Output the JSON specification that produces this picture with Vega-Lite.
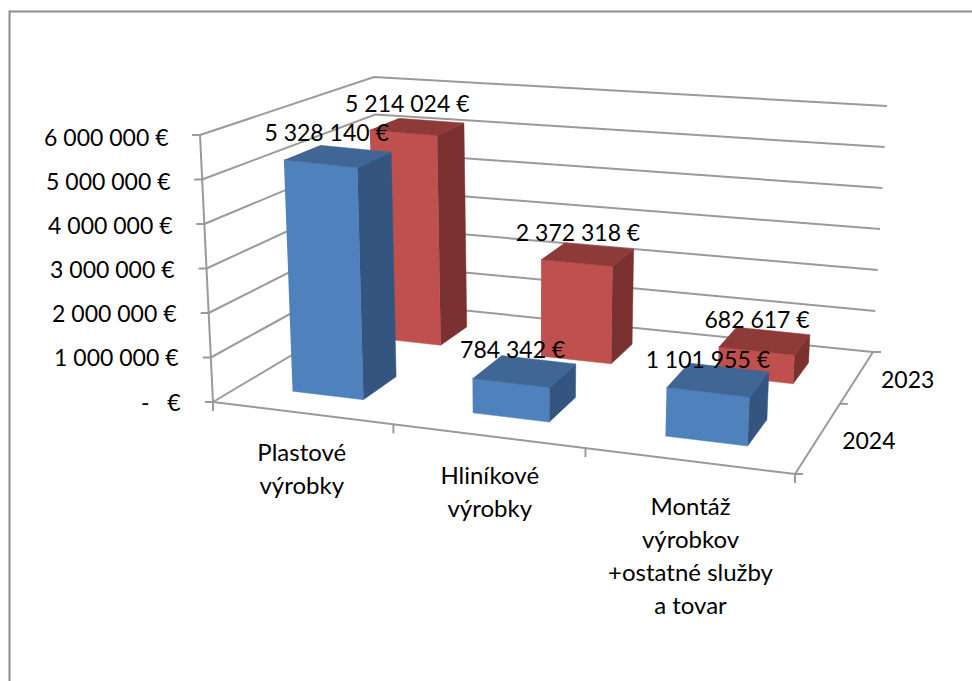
{
"$schema":"https://vega.github.io/schema/vega-lite/v6.json",
"width":972,"height":681,"padding":0,"autosize":{"type":"none"},"background":"white",
"config":{"view":{"stroke":null},"text":{"font":"Lato","fontSize":23,"color":"#000000"}},
"datasets":{
"bars":[
{"category":"Plastové\nvýrobky","year":"2024","value":5328140},
{"category":"Hliníkové\nvýrobky","year":"2024","value":784342},
{"category":"Montáž\nvýrobkov\n+ostatné služby\na tovar","year":"2024","value":1101955},
{"category":"Plastové\nvýrobky","year":"2023","value":5214024},
{"category":"Hliníkové\nvýrobky","year":"2023","value":2372318},
{"category":"Montáž\nvýrobkov\n+ostatné služby\na tovar","year":"2023","value":682617}],
"levels":[{"level":0},{"level":1000000},{"level":2000000},{"level":3000000},{"level":4000000},{"level":5000000},{"level":6000000}],
"edges":[{"edge":"front"},{"edge":"side"},{"edge":"upright"}]
},
"resolve":{"scale":{"y":"independent"}},
"layer":[
{"data":{"name":"levels"},"mark":{"type":"point","opacity":0},
 "encoding":{"y":{"field":"level","type":"quantitative","scale":{"domain":[0,6000000],"range":[403,138],"nice":false,"zero":false},
  "axis":{"title":null,"values":[0,1000000,2000000,3000000,4000000,5000000,6000000],"offset":-180,"domain":false,"ticks":false,"grid":false,"labelFont":"Lato","labelFontSize":23,"labelColor":"#000000","labelPadding":{"expr":"datum.value/500000"},"labelExpr":"datum.value==0?'-\u00a0\u00a0\u00a0€':replace(format(datum.value,','),regexp(',','g'),' ')+' €'"}}}},
{"encoding":{
  "x":{"field":"px","type":"quantitative","scale":{"domain":[9,972],"range":[9,972],"nice":false,"zero":false},"axis":{"orient":"top","offset":-11,"title":null,"labels":false,"ticks":false,"grid":false,"domain":true,"domainColor":"#8c8c8c","domainWidth":2}},
  "y":{"field":"py","type":"quantitative","scale":{"domain":[10,681],"range":[10,681],"nice":false,"zero":false},"axis":{"orient":"left","offset":-9,"title":null,"labels":false,"ticks":false,"grid":false,"domain":true,"domainColor":"#8c8c8c","domainWidth":2}}
 },
 "layer":[
 {"data":{"name":"levels"},
  "transform":[{"calculate":"[0,1,2]","as":"p"},{"flatten":["p"]},{"calculate":"[0,0,1][datum.p]","as":"u"},{"calculate":"[0,1,1][datum.p]","as":"v"},{"calculate":"datum.level/6000000","as":"w"},
   {"calculate":"lerp([lerp([lerp([213,795],datum.u),lerp([381,873],datum.u)],datum.v),lerp([lerp([200,807],datum.u),lerp([374,887],datum.u)],datum.v)],datum.w)","as":"px"},
   {"calculate":"lerp([lerp([lerp([402,474],datum.u),lerp([302,352],datum.u)],datum.v),lerp([lerp([135,204],datum.u),lerp([77,106],datum.u)],datum.v)],datum.w)","as":"py"}],
  "mark":{"type":"line","color":"#9a9a9a","strokeWidth":2},
  "encoding":{"detail":{"field":"level"},"order":{"field":"p"}}},
 {"data":{"name":"edges"},
  "transform":[{"calculate":"[0,1]","as":"p"},{"flatten":["p"]},
   {"calculate":"datum.edge=='front'?datum.p:(datum.edge=='side'?1:0)","as":"u"},
   {"calculate":"datum.edge=='side'?datum.p:0","as":"v"},
   {"calculate":"datum.edge=='upright'?datum.p:0","as":"w"},
   {"calculate":"lerp([lerp([lerp([213,795],datum.u),lerp([381,873],datum.u)],datum.v),lerp([lerp([200,807],datum.u),lerp([374,887],datum.u)],datum.v)],datum.w)","as":"px"},
   {"calculate":"lerp([lerp([lerp([402,474],datum.u),lerp([302,352],datum.u)],datum.v),lerp([lerp([135,204],datum.u),lerp([77,106],datum.u)],datum.v)],datum.w)","as":"py"}],
  "mark":{"type":"line","color":"#9a9a9a","strokeWidth":2},
  "encoding":{"detail":{"field":"edge"},"order":{"field":"p"}}},
 {"data":{"name":"levels"},
  "transform":[{"calculate":"0","as":"u"},{"calculate":"0","as":"v"},{"calculate":"datum.level/6000000","as":"w"},
   {"calculate":"lerp([lerp([lerp([213,795],datum.u),lerp([381,873],datum.u)],datum.v),lerp([lerp([200,807],datum.u),lerp([374,887],datum.u)],datum.v)],datum.w)","as":"px"},
   {"calculate":"lerp([lerp([lerp([402,474],datum.u),lerp([302,352],datum.u)],datum.v),lerp([lerp([135,204],datum.u),lerp([77,106],datum.u)],datum.v)],datum.w)","as":"py"},
   {"calculate":"datum.px-8","as":"tx"}],
  "mark":{"type":"rule","color":"#9a9a9a","strokeWidth":2},
  "encoding":{"x2":{"field":"tx"}}},
 {"data":{"name":"edges"},
  "transform":[{"filter":"datum.edge=='front'"},{"calculate":"[0,0.31,0.64,1]","as":"u"},{"flatten":["u"]},{"calculate":"0","as":"v"},{"calculate":"0","as":"w"},
   {"calculate":"lerp([lerp([lerp([213,795],datum.u),lerp([381,873],datum.u)],datum.v),lerp([lerp([200,807],datum.u),lerp([374,887],datum.u)],datum.v)],datum.w)","as":"px"},
   {"calculate":"lerp([lerp([lerp([402,474],datum.u),lerp([302,352],datum.u)],datum.v),lerp([lerp([135,204],datum.u),lerp([77,106],datum.u)],datum.v)],datum.w)","as":"py"},
   {"calculate":"datum.py+9","as":"ty"}],
  "mark":{"type":"rule","color":"#9a9a9a","strokeWidth":2},
  "encoding":{"y2":{"field":"ty"}}},
 {"data":{"name":"edges"},
  "transform":[{"filter":"datum.edge=='side'"},{"calculate":"[0,0.575,1]","as":"v"},{"flatten":["v"]},{"calculate":"1","as":"u"},{"calculate":"0","as":"w"},
   {"calculate":"lerp([lerp([lerp([213,795],datum.u),lerp([381,873],datum.u)],datum.v),lerp([lerp([200,807],datum.u),lerp([374,887],datum.u)],datum.v)],datum.w)","as":"px"},
   {"calculate":"lerp([lerp([lerp([402,474],datum.u),lerp([302,352],datum.u)],datum.v),lerp([lerp([135,204],datum.u),lerp([77,106],datum.u)],datum.v)],datum.w)","as":"py"},
   {"calculate":"datum.px+8","as":"tx"}],
  "mark":{"type":"rule","color":"#9a9a9a","strokeWidth":2},
  "encoding":{"x2":{"field":"tx"}}},
 {"data":{"name":"bars"},
  "transform":[{"filter":"datum.year=='2023'"},
   {"calculate":"indexof(['Plastové','Hliníkové','Montáž'],split(datum.category,'\\n')[0])","as":"i"},
   {"calculate":"[0.09,0.408,0.748][datum.i]","as":"c0"},{"calculate":"[0.215,0.543,0.893][datum.i]","as":"c1"},
   {"calculate":"datum.year=='2024'?0.17:0.69","as":"d0"},{"calculate":"datum.year=='2024'?0.39:0.865","as":"d1"},
   {"calculate":"datum.value/6000000","as":"h"},
   {"calculate":"['front','side','top']","as":"face"},{"flatten":["face"]},
   {"calculate":"[0,1,2,3]","as":"corner"},{"flatten":["corner"]},
   {"calculate":"datum.face=='side'?datum.c1:((datum.corner==0||datum.corner==3)?datum.c0:datum.c1)","as":"u"},
   {"calculate":"datum.face=='front'?datum.d0:(datum.face=='side'?((datum.corner==0||datum.corner==3)?datum.d0:datum.d1):(datum.corner<2?datum.d0:datum.d1))","as":"v"},
   {"calculate":"datum.face=='top'?datum.h:(datum.corner<2?0:datum.h)","as":"w"},
   {"calculate":"lerp([lerp([lerp([213,795],datum.u),lerp([381,873],datum.u)],datum.v),lerp([lerp([200,807],datum.u),lerp([374,887],datum.u)],datum.v)],datum.w)","as":"px"},
   {"calculate":"lerp([lerp([lerp([402,474],datum.u),lerp([302,352],datum.u)],datum.v),lerp([lerp([135,204],datum.u),lerp([77,106],datum.u)],datum.v)],datum.w)","as":"py"},
   {"calculate":"datum.year+' '+datum.face","as":"shade"},
   {"calculate":"datum.category+datum.face","as":"poly"}],
  "mark":{"type":"line","strokeWidth":0.5},
  "encoding":{"detail":{"field":"poly"},"order":{"field":"corner"},
   "fill":{"field":"shade","type":"nominal","legend":null,"scale":{"domain":["2023 front","2023 side","2023 top","2024 front","2024 side","2024 top"],"range":["#C0504D","#7A3130","#8E3A38","#4F81BD","#34557F","#3F6695"]}},
   "stroke":{"field":"shade","type":"nominal","legend":null,"scale":{"domain":["2023 front","2023 side","2023 top","2024 front","2024 side","2024 top"],"range":["#C0504D","#7A3130","#8E3A38","#4F81BD","#34557F","#3F6695"]}}}},
 {"data":{"name":"bars"},
  "transform":[{"filter":"datum.year=='2024'"},
   {"calculate":"indexof(['Plastové','Hliníkové','Montáž'],split(datum.category,'\\n')[0])","as":"i"},
   {"calculate":"[0.09,0.408,0.748][datum.i]","as":"c0"},{"calculate":"[0.215,0.543,0.893][datum.i]","as":"c1"},
   {"calculate":"datum.year=='2024'?0.17:0.69","as":"d0"},{"calculate":"datum.year=='2024'?0.39:0.865","as":"d1"},
   {"calculate":"datum.value/6000000","as":"h"},
   {"calculate":"['front','side','top']","as":"face"},{"flatten":["face"]},
   {"calculate":"[0,1,2,3]","as":"corner"},{"flatten":["corner"]},
   {"calculate":"datum.face=='side'?datum.c1:((datum.corner==0||datum.corner==3)?datum.c0:datum.c1)","as":"u"},
   {"calculate":"datum.face=='front'?datum.d0:(datum.face=='side'?((datum.corner==0||datum.corner==3)?datum.d0:datum.d1):(datum.corner<2?datum.d0:datum.d1))","as":"v"},
   {"calculate":"datum.face=='top'?datum.h:(datum.corner<2?0:datum.h)","as":"w"},
   {"calculate":"lerp([lerp([lerp([213,795],datum.u),lerp([381,873],datum.u)],datum.v),lerp([lerp([200,807],datum.u),lerp([374,887],datum.u)],datum.v)],datum.w)","as":"px"},
   {"calculate":"lerp([lerp([lerp([402,474],datum.u),lerp([302,352],datum.u)],datum.v),lerp([lerp([135,204],datum.u),lerp([77,106],datum.u)],datum.v)],datum.w)","as":"py"},
   {"calculate":"datum.year+' '+datum.face","as":"shade"},
   {"calculate":"datum.category+datum.face","as":"poly"}],
  "mark":{"type":"line","strokeWidth":0.5},
  "encoding":{"detail":{"field":"poly"},"order":{"field":"corner"},
   "fill":{"field":"shade","type":"nominal","legend":null,"scale":{"domain":["2023 front","2023 side","2023 top","2024 front","2024 side","2024 top"],"range":["#C0504D","#7A3130","#8E3A38","#4F81BD","#34557F","#3F6695"]}},
   "stroke":{"field":"shade","type":"nominal","legend":null,"scale":{"domain":["2023 front","2023 side","2023 top","2024 front","2024 side","2024 top"],"range":["#C0504D","#7A3130","#8E3A38","#4F81BD","#34557F","#3F6695"]}}}},
 {"data":{"name":"bars"},
  "transform":[
   {"calculate":"indexof(['Plastové','Hliníkové','Montáž'],split(datum.category,'\\n')[0])","as":"i"},
   {"calculate":"([0.1525,0.4755,0.8205])[datum.i]","as":"u"},
   {"calculate":"datum.year=='2024'?0.39:0.865","as":"v"},
   {"calculate":"datum.value/6000000","as":"w"},
   {"calculate":"lerp([lerp([lerp([213,795],datum.u),lerp([381,873],datum.u)],datum.v),lerp([lerp([200,807],datum.u),lerp([374,887],datum.u)],datum.v)],datum.w)+(datum.year=='2024'?[-29,-26,-21]:[-24,-21,-16])[datum.i]","as":"px"},
   {"calculate":"lerp([lerp([lerp([402,474],datum.u),lerp([302,352],datum.u)],datum.v),lerp([lerp([135,204],datum.u),lerp([77,106],datum.u)],datum.v)],datum.w)+(datum.year=='2024'?[-15,-9,-6]:[-16,-12,-10])[datum.i]","as":"py"},
   {"calculate":"replace(format(datum.value,','),regexp(',','g'),' ')+' €'","as":"label"}],
  "mark":{"type":"text","align":"center","baseline":"middle"},
  "encoding":{"text":{"field":"label"}}},
 {"data":{"name":"bars"},
  "transform":[{"filter":"datum.year=='2024'"},
   {"calculate":"indexof(['Plastové','Hliníkové','Montáž'],split(datum.category,'\\n')[0])","as":"i"},
   {"calculate":"([0.1525,0.4755,0.8205])[datum.i]","as":"u"},{"calculate":"0","as":"v"},{"calculate":"0","as":"w"},
   {"calculate":"lerp([lerp([lerp([213,795],datum.u),lerp([381,873],datum.u)],datum.v),lerp([lerp([200,807],datum.u),lerp([374,887],datum.u)],datum.v)],datum.w)","as":"px"},
   {"calculate":"lerp([lerp([lerp([402,474],datum.u),lerp([302,352],datum.u)],datum.v),lerp([lerp([135,204],datum.u),lerp([77,106],datum.u)],datum.v)],datum.w)+[29,29,35][datum.i]","as":"py"}],
  "mark":{"type":"text","align":"center","baseline":"top","lineBreak":"\n","lineHeight":33,"fontSize":24},
  "encoding":{"text":{"field":"category"}}},
 {"data":{"name":"bars"},
  "transform":[{"filter":"indexof(datum.category,'Plastové')==0"},
   {"calculate":"1","as":"u"},{"calculate":"datum.year=='2024'?0.28:0.7775","as":"v"},{"calculate":"0","as":"w"},
   {"calculate":"lerp([lerp([lerp([213,795],datum.u),lerp([381,873],datum.u)],datum.v),lerp([lerp([200,807],datum.u),lerp([374,887],datum.u)],datum.v)],datum.w)+52","as":"px"},
   {"calculate":"lerp([lerp([lerp([402,474],datum.u),lerp([302,352],datum.u)],datum.v),lerp([lerp([135,204],datum.u),lerp([77,106],datum.u)],datum.v)],datum.w)+2","as":"py"}],
  "mark":{"type":"text","align":"center","baseline":"middle"},
  "encoding":{"text":{"field":"year"}}}
 ]}
]
}
